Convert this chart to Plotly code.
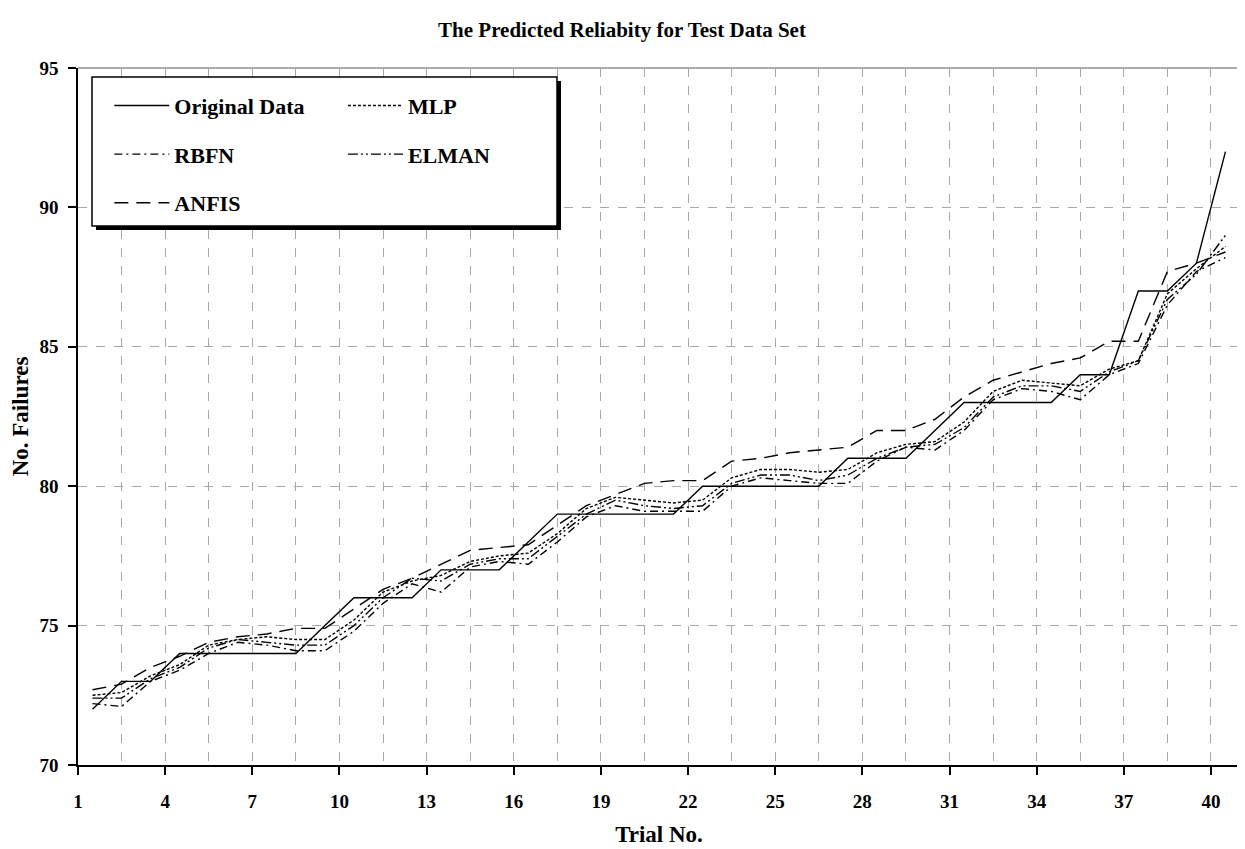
import plotly.graph_objects as go

trials = list(range(1, 41))
tick_labels = [str(t) for t in range(1, 41, 3)]

original = [72, 73, 73, 74, 74, 74, 74, 74, 75, 76,
            76, 76, 77, 77, 77, 78, 79, 79, 79, 79,
            79, 80, 80, 80, 80, 80, 81, 81, 81, 82,
            83, 83, 83, 83, 84, 84, 87, 87, 88, 92]
mlp = [72.5, 72.6, 73.2, 73.6, 74.3, 74.5, 74.6, 74.5, 74.5, 75.2,
       76.2, 76.6, 76.8, 77.3, 77.5, 77.6, 78.3, 79.2, 79.6, 79.5,
       79.4, 79.5, 80.3, 80.6, 80.6, 80.5, 80.6, 81.2, 81.5, 81.6,
       82.3, 83.4, 83.8, 83.7, 83.6, 84.2, 84.5, 86.9, 87.8, 88.6]
rbfn = [72.2, 72.1, 73.0, 73.4, 74.0, 74.4, 74.3, 74.1, 74.1, 74.8,
        75.8, 76.5, 76.2, 77.1, 77.3, 77.2, 78.0, 78.9, 79.3, 79.1,
        79.1, 79.1, 80.0, 80.3, 80.2, 80.1, 80.1, 80.9, 81.4, 81.3,
        82.0, 83.1, 83.5, 83.4, 83.1, 84.0, 84.4, 86.5, 87.7, 88.2]
elman = [72.4, 72.4, 73.1, 73.5, 74.2, 74.5, 74.4, 74.3, 74.3, 75.0,
         76.0, 76.7, 76.6, 77.2, 77.4, 77.4, 78.2, 79.0, 79.5, 79.3,
         79.2, 79.3, 80.1, 80.4, 80.4, 80.2, 80.4, 81.0, 81.4, 81.5,
         82.1, 83.2, 83.6, 83.6, 83.4, 84.1, 84.5, 86.7, 87.6, 89.0]
anfis = [72.7, 72.9, 73.5, 73.9, 74.4, 74.6, 74.7, 74.9, 74.9, 75.6,
         76.3, 76.7, 77.2, 77.7, 77.8, 77.9, 78.6, 79.3, 79.7, 80.1,
         80.2, 80.2, 80.9, 81.0, 81.2, 81.3, 81.4, 82.0, 82.0, 82.4,
         83.2, 83.8, 84.1, 84.4, 84.6, 85.2, 85.2, 87.7, 88.0, 88.4]

FONT = "Liberation Serif"

fig = go.Figure()
series = [
    ("Original Data", original, "solid", "legend"),
    ("RBFN", rbfn, "8px,4px,2px,4px", "legend"),
    ("ANFIS", anfis, "14px,8px", "legend"),
    ("MLP", mlp, "3px,2px", "legend2"),
    ("ELMAN", elman, "10px,3px,2px,3px,2px,3px", "legend2"),
]
for name, vals, dash, leg in series:
    fig.add_trace(go.Scatter(
        x=trials, y=vals, mode="lines", name="<b>%s</b>" % name, legend=leg,
        legendgroup=name,
        line=dict(color="black", width=1.4, dash=dash),
    ))

# the page body has an 8px margin: size the figure so the plot lands in place
W, H = 1237, 841
grid = "#a8a8a8"
fig.update_layout(
    width=W, height=H,
    margin=dict(l=70, r=5, t=60, b=84, autoexpand=False),
    paper_bgcolor="white", plot_bgcolor="white",
    font=dict(family=FONT, color="black"),
    title=dict(text="<b>The Predicted Reliabity for Test Data Set</b>",
               x=(622 - 8) / W, xref="container", xanchor="center",
               y=1 - 22 / H, yref="container", yanchor="middle",
               font=dict(size=21, family=FONT)),
    xaxis=dict(range=[0.5, 40.5], tickmode="array",
               tickvals=[t - 0.5 for t in range(1, 41, 3)],
               ticktext=["<b>%s</b>" % s for s in tick_labels],
               ticks="outside", ticklen=8, tickcolor="black", tickwidth=1.5,
               ticklabelstandoff=10,
               showline=True, linecolor="black", linewidth=1.5,
               showgrid=True, gridcolor=grid, griddash="dash", gridwidth=1,
               minor=dict(tick0=0.5, dtick=1.5, showgrid=True, gridcolor=grid,
                          griddash="dash", gridwidth=1, ticks=""),
               zeroline=False, automargin=False,
               tickfont=dict(size=19, family=FONT),
               title=dict(text="<b>Trial No.</b>", font=dict(size=23, family=FONT), standoff=15)),
    yaxis=dict(range=[70, 95], tickmode="linear", tick0=70, dtick=5,
               tickprefix="<b>", ticksuffix="</b>",
               ticks="outside", ticklen=8, tickcolor="black", tickwidth=1.5,
               ticklabelstandoff=6,
               showline=True, linecolor="black", linewidth=1.5, mirror=True,
               showgrid=True, gridcolor=grid, griddash="dash", gridwidth=1,
               zeroline=False, automargin=False,
               tickfont=dict(size=19, family=FONT),
               title=dict(text="<b>No. Failures</b>", font=dict(size=23, family=FONT), standoff=8)),
    legend=dict(x=0.027, y=0.976, xanchor="left", yanchor="top",
                bgcolor="rgba(0,0,0,0)", borderwidth=0,
                font=dict(size=22, family=FONT), itemwidth=55,
                tracegroupgap=17, traceorder="grouped"),
    legend2=dict(x=0.228, y=0.976, xanchor="left", yanchor="top",
                 bgcolor="rgba(0,0,0,0)", borderwidth=0,
                 font=dict(size=22, family=FONT), itemwidth=55,
                 tracegroupgap=17, traceorder="grouped"),
    showlegend=True,
)

# legend frame with drop shadow, top frame line (page pixel coords -> paper)
px_w, px_h = 1162.0, 697.0
bx0, by0, bx1, by1 = 92, 77, 557, 226
def px(x):
    return (x - 78) / px_w
def py(y):
    return (765 - y) / px_h
fig.add_shape(type="rect", xref="paper", yref="paper", layer="above",
              x0=px(bx0 + 4), x1=px(bx1 + 4), y0=py(by1 + 4), y1=py(by0 + 4),
              fillcolor="black", line=dict(width=0))
fig.add_shape(type="rect", xref="paper", yref="paper", layer="above",
              x0=px(bx0), x1=px(bx1), y0=py(by1), y1=py(by0),
              fillcolor="white", line=dict(color="black", width=1.5))
fig.add_shape(type="line", xref="paper", yref="paper", layer="below",
              x0=0, x1=1, y0=1, y1=1, line=dict(color="#909090", width=1.5))

fig.write_html("out.html")
